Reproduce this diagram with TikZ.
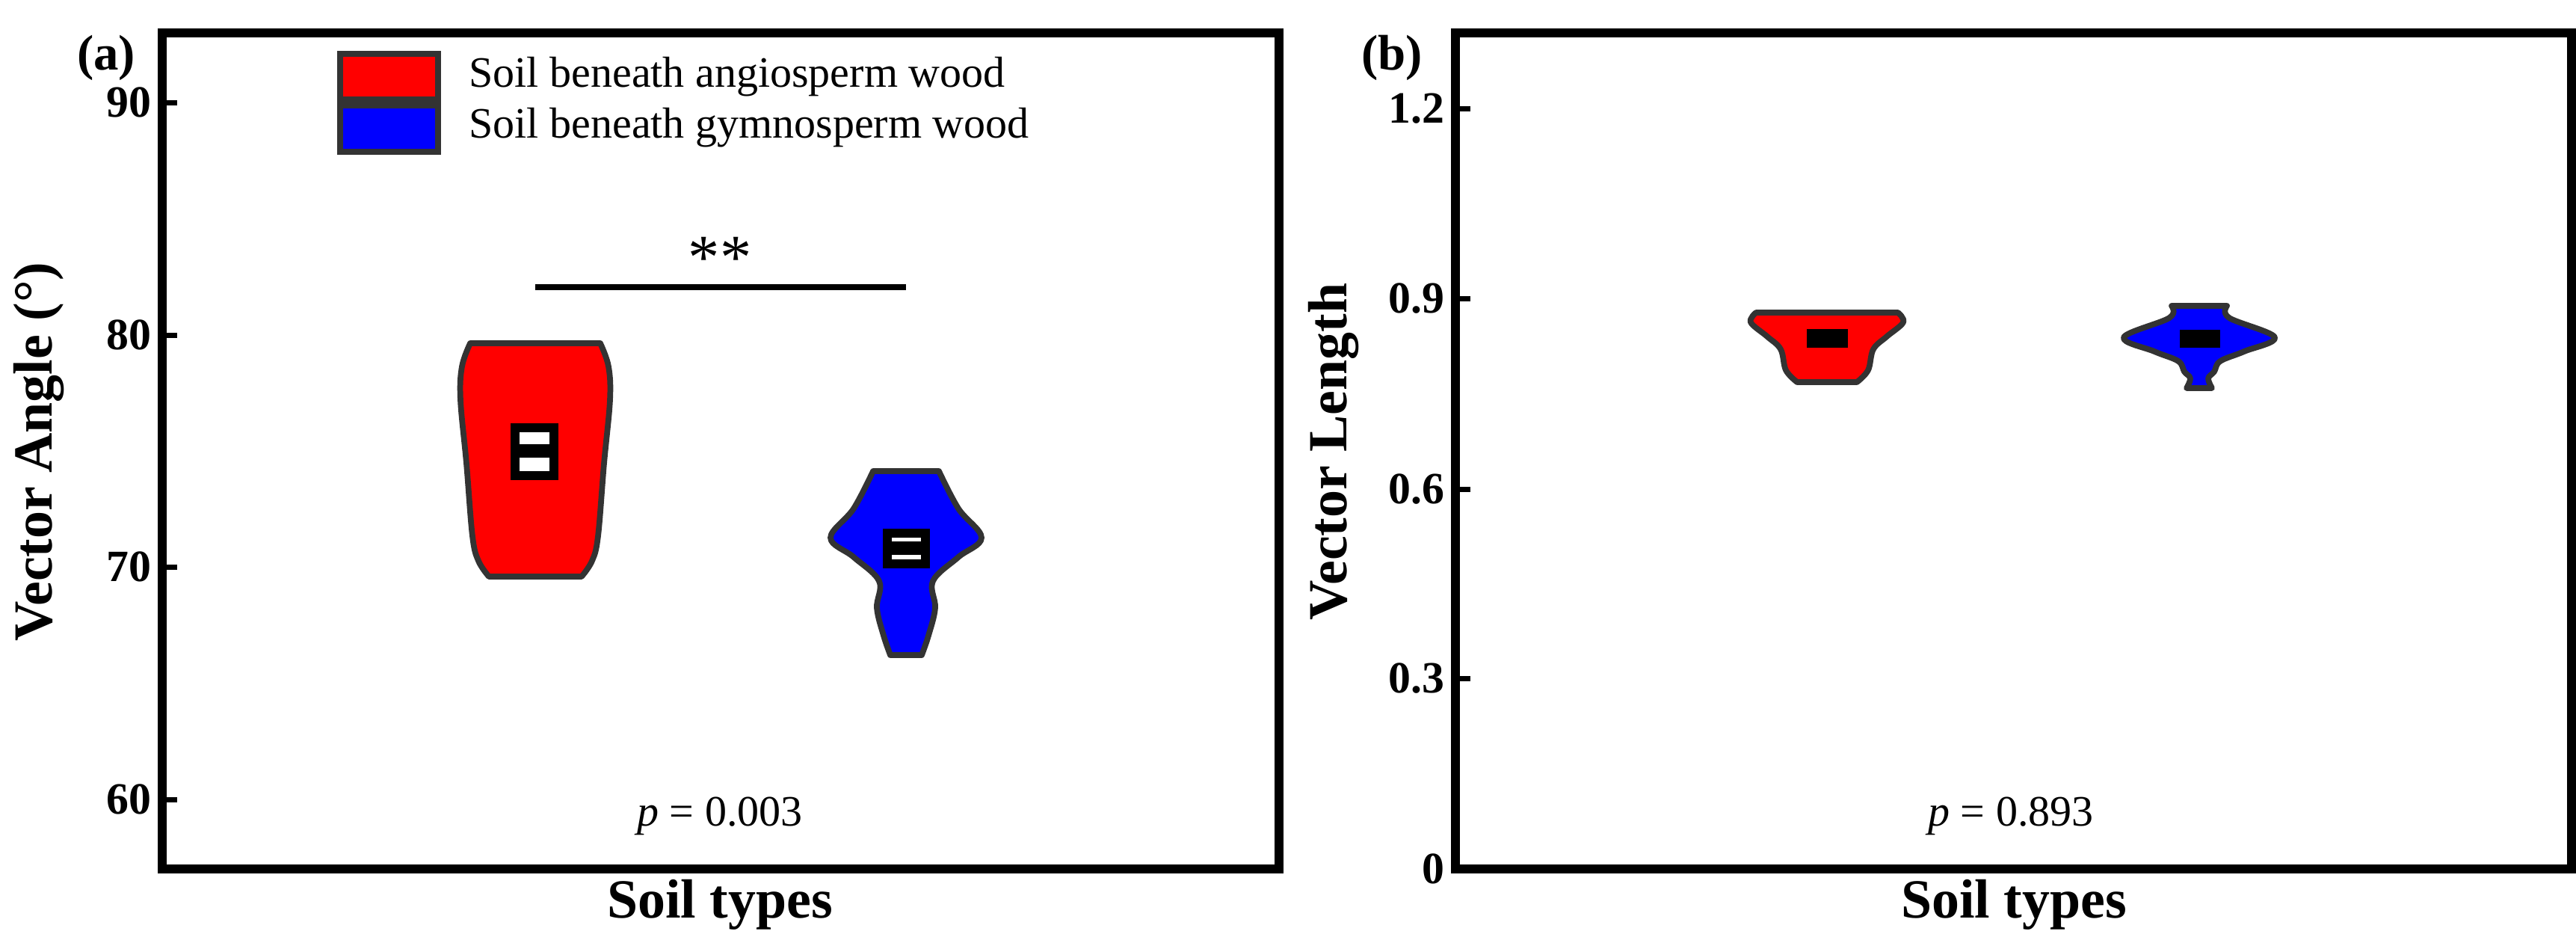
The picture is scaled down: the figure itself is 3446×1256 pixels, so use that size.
\documentclass[tikz,border=0pt]{standalone}
\usepackage{fontspec}
\setmainfont{Liberation Serif}
\begin{document}
\begin{tikzpicture}[x=0.01cm,y=-0.01cm,
  frame/.style={line width=3.5pt},
  tick/.style={line width=2pt},
  ticklab/.style={anchor=east,font=\fontsize{17}{20}\selectfont\bfseries,inner sep=2pt},
  axlab/.style={font=\fontsize{21}{24}\selectfont\bfseries},
  panlab/.style={font=\fontsize{19}{22}\selectfont\bfseries},
  txt/.style={font=\fontsize{16.5}{20}\selectfont},
  violin/.style={draw=black!80,line width=2.2pt,line join=round},
  medbox/.style={draw=black,line width=3.5pt,fill=white}]
\useasboundingbox (0,0) rectangle (3446,1256);
% ---------- panel a ----------
\draw[frame] (217,44) rectangle (1711,1162);
\foreach \v/\y in {90/137,80/448,70/758,60/1069}{
  \draw[tick] (217,\y) -- (237,\y);
  \node[ticklab] (ta\v) at (210,\y) {\v};}
\node[panlab] (pa) at (142,77) {(a)};
\node[axlab,rotate=90] (ya) at (52,604) {Vector Angle (°)};
\node[axlab] (xa) at (963,1210) {Soil types};
% legend
\draw[line width=2.5pt,draw=black!80,fill=red] (455,72) rectangle (586,133);
\draw[line width=2.5pt,draw=black!80,fill=blue] (455,141) rectangle (586,203);
\node[txt,anchor=west] (la) at (615,103) {Soil beneath angiosperm wood};
\node[txt,anchor=west] (lb) at (615,171) {Soil beneath gymnosperm wood};
% violins a
\draw[violin,fill=red] plot[smooth,tension=0.6] coordinates {(803,459) (814,490) (816,535) (808,620) (800,717) (792,750) (778,771)}
  -- plot[smooth,tension=0.6] coordinates {(654,771) (640,750) (632,717) (624,620) (616,535) (618,490) (629,459)} -- cycle;
\draw[medbox] (689,572) rectangle (741,636);
\draw[line width=5pt] (689,603) -- (741,603);
\draw[violin,fill=blue] plot[smooth,tension=0.6] coordinates {(1256,630) (1282,680) (1313,719) (1282,745) (1248,777) (1251,813) (1242,850) (1233,876)}
  -- plot[smooth,tension=0.6] coordinates {(1191,876) (1182,850) (1173,813) (1176,777) (1142,745) (1111,719) (1142,680) (1168,630)} -- cycle;
\draw[medbox] (1187,713) rectangle (1238,754);
\draw[line width=5pt] (1187,733) -- (1238,733);
\coordinate (sl) at (716,384); \coordinate (sr) at (1212,384);
\draw[line width=2.5pt] (sl) -- (sr);
\node[font=\fontsize{24}{26}\selectfont] (st) at (963,345) {**};
\node[txt] (pva) at (963,1091) {\textit{p} = 0.003};
% ---------- panel b ----------
\draw[frame] (1947,44) rectangle (3440,1162);
\foreach \v/\y/\n in {1.2/145/a,0.9/399/b,0.6/654/c,0.3/907/d,0/1162/e}{
  \draw[tick] (1947,\y) -- (1967,\y);
  \node[ticklab] (tb\n) at (1940,\y) {\v};}
\node[panlab] (pb) at (1862,77) {(b)};
\node[axlab,rotate=90] (yb) at (1784,604) {Vector Length};
\node[axlab] (xb) at (2694,1210) {Soil types};
\draw[violin,fill=red] plot[smooth,tension=0.6] coordinates {(2539,418) (2546,431) (2524,450) (2506,467) (2499,495) (2484,511)}
  -- plot[smooth,tension=0.6] coordinates {(2404,511) (2389,495) (2382,467) (2364,450) (2342,431) (2349,418)} -- cycle;
\fill[black] (2417,440) rectangle (2472,465);
\draw[violin,fill=blue] plot[smooth,tension=0.6] coordinates {(2979,409) (2982,425) (3043,451) (3002,470) (2970,483) (2962,497) (2954,506) (2959,519)}
  -- plot[smooth,tension=0.6] coordinates {(2925,519) (2930,506) (2922,497) (2914,483) (2882,470) (2841,451) (2902,425) (2905,409)} -- cycle;
\fill[black] (2916,441) rectangle (2970,465);
\node[txt] (pvb) at (2690,1091) {\textit{p} = 0.893};
\end{tikzpicture}
\end{document}
